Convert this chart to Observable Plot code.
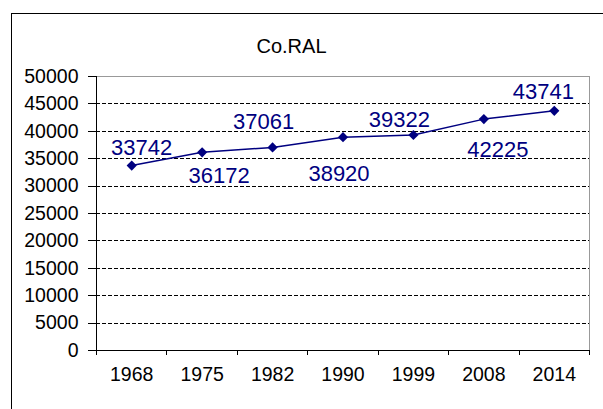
<!DOCTYPE html>
<html><head><meta charset="utf-8">
<script src="https://cdn.jsdelivr.net/npm/d3@7"></script>
<script src="https://cdn.jsdelivr.net/npm/@observablehq/plot@0.6"></script>
<style>
html,body{margin:0;padding:0;background:#fff;color:#000;}
#wrap{position:relative;width:603px;height:409px;overflow:hidden;}
#wrap svg{position:absolute;left:0;top:0;}
#border{position:absolute;left:11px;top:13px;width:700px;height:500px;border-left:1px solid #000;border-top:1px solid #000;pointer-events:none;z-index:2;}
</style></head><body>
<div id="wrap"><div id="border"></div></div>
<script>
const title = "Co.RAL";
const years = ["1968","1975","1982","1990","1999","2008","2014"];
const values = [33742,36172,37061,38920,39322,42225,43741];
const yTicks = [0,5000,10000,15000,20000,25000,30000,35000,40000,45000,50000];
// label placement offsets (relative to each point, in px)
const labelDx = [10,17,-9,-4,-14,14,-11];
const labelDy = [-11,31,-18,44,-8,38,-12];

const data = years.map((y,i)=>({i: i + 0.5, year: y, value: values[i]}));
const navy = "#000080";

const chart = Plot.plot({
  width: 603,
  height: 409,
  marginLeft: 96,
  marginRight: 14,
  marginTop: 76,
  marginBottom: 59,
  style: {fontFamily: "'Liberation Sans', Arial, sans-serif", fontSize: "19.5px", color: "#000", background: "transparent"},
  x: {type: "linear", domain: [0, years.length]},
  y: {domain: [0, 50000]},
  marks: [
    Plot.ruleY(yTicks.filter(v => v > 0 && v < 50000), {stroke: "#000", strokeDasharray: "4,2", strokeWidth: 1, shapeRendering: "crispEdges"}),
    Plot.ruleY([50000], {stroke: "#999", strokeWidth: 1, shapeRendering: "crispEdges"}),
    Plot.ruleX([years.length], {stroke: "#999", strokeWidth: 1, shapeRendering: "crispEdges"}),
    Plot.ruleX([0], {stroke: "#000", strokeWidth: 1.5, shapeRendering: "crispEdges"}),
    Plot.ruleY([0], {stroke: "#000", strokeWidth: 1.5, shapeRendering: "crispEdges"}),
    Plot.axisY({ticks: yTicks, tickSize: 8, tickPadding: 10, tickFormat: d => String(d), label: null, shapeRendering: "crispEdges"}),
    Plot.axisX({ticks: d3.range(years.length + 1), tickSize: 5, tickFormat: () => "", label: null, shapeRendering: "crispEdges"}),
    Plot.axisX({ticks: data.map(d => d.i), tickSize: 0, tickPadding: 17, tickFormat: v => years[Math.floor(v)], label: null}),
    Plot.line(data, {x: "i", y: "value", stroke: navy, strokeWidth: 1.5}),
    Plot.dot(data, {x: "i", y: "value", symbol: "diamond2", r: 4.6, fill: navy, stroke: "none"}),
    ...data.map((d, k) => Plot.text([d], {x: "i", y: "value", text: d => String(d.value), dx: labelDx[k], dy: labelDy[k], lineAnchor: "bottom", fill: navy, fontSize: 22})),
    Plot.text([title], {frameAnchor: "top-left", dx: 160, dy: -24, textAnchor: "start", lineAnchor: "bottom", fontSize: 20, fill: "#000"})
  ]
});
document.getElementById("wrap").appendChild(chart);
</script>
</body></html>
